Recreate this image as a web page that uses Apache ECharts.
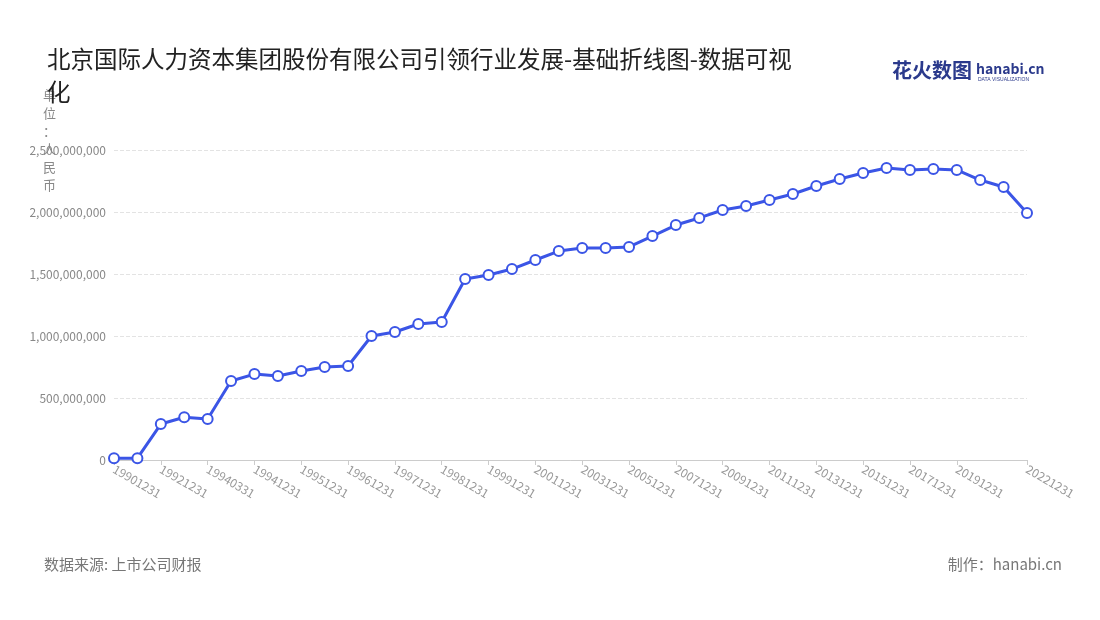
<!DOCTYPE html>
<html><head><meta charset="utf-8">
<script src="https://cdn.jsdelivr.net/npm/echarts@6/dist/echarts.min.js"></script>
<style>body{margin:0}#c{width:1100px;height:620px}</style></head>
<body><div id="c"></div>
<script>
const categories=['19901231','19911231','19921231','19931231','19940331','19940630','19941231','19950630','19951231','19960630','19961231','19970630','19971231','19980630','19981231','19990630','19991231','20001231','20011231','20021231','20031231','20041231','20051231','20061231','20071231','20081231','20091231','20101231','20111231','20121231','20131231','20141231','20151231','20161231','20171231','20181231','20191231','20201231','20211231','20221231'];
const values=[15e6,15e6,290e6,345e6,330e6,637e6,693e6,677e6,718e6,750e6,758e6,1000e6,1032e6,1097e6,1113e6,1460e6,1492e6,1540e6,1613e6,1685e6,1710e6,1710e6,1718e6,1806e6,1895e6,1952e6,2016e6,2048e6,2097e6,2145e6,2210e6,2266e6,2315e6,2355e6,2339e6,2347e6,2339e6,2258e6,2202e6,1992e6];
const F='"Noto Sans CJK SC","Noto Sans",sans-serif';
const ch=echarts.init(document.getElementById('c'));
ch.setOption({
 animation:false,
 textStyle:{fontFamily:F},
 title:{text:'北京国际人力资本集团股份有限公司引领行业发展-基础折线图-数据可视\n化',left:42,top:38,textStyle:{fontSize:23.5,fontWeight:'normal',color:'#222',lineHeight:33,fontFamily:F}},
 graphic:[
  {type:'text',left:892,top:60,style:{text:'花火数图',fontSize:20,fontWeight:'bold',fill:'#2b3a8c',fontFamily:F}},
  {type:'text',left:976,top:62,style:{text:'hanabi.cn',fontSize:14,fontWeight:'bold',fill:'#2b3a8c',fontFamily:F}},
  {type:'text',left:978,top:77,style:{text:'DATA VISUALIZATION',fontSize:5,fill:'#2b3a8c'}},
  {type:'text',left:44,top:557,style:{text:'数据来源: 上市公司财报',fontSize:15,fill:'#777',fontFamily:F}},
  {type:'text',right:38,top:557,style:{text:'制作：hanabi.cn',fontSize:15,fill:'#777',fontFamily:F}},
  {type:'text',left:43,top:86,style:{text:'单\n位\n：\n人\n民\n币',fontSize:13,lineHeight:18,fill:'#888',fontFamily:F}}
 ],
 grid:{left:114,right:73,top:150,bottom:160},
 xAxis:{type:'category',data:categories,boundaryGap:false,
  axisLine:{lineStyle:{color:'#ccc'}},axisTick:{show:true,alignWithLabel:true,interval:function(i){return (i%2===0&&i!==38)||i===39;},lineStyle:{color:'#ccc'}},
  axisLabel:{rotate:-30,color:'#999',fontSize:12,interval:function(i){return (i%2===0&&i!==38)||i===39;},margin:8}},
 yAxis:{type:'value',min:0,max:2500000000,interval:500000000,
  axisLabel:{color:'#888',fontSize:12,formatter:v=>v.toLocaleString('en-US')},
  splitLine:{lineStyle:{type:'dashed',color:'#e3e3e3'}},axisLine:{show:false},axisTick:{show:false}},
 series:[{type:'line',data:values,symbol:'circle',symbolSize:10,
  lineStyle:{color:'#3b55e6',width:3},itemStyle:{color:'#fff',borderColor:'#3b55e6',borderWidth:2}}]
});
</script></body></html>
